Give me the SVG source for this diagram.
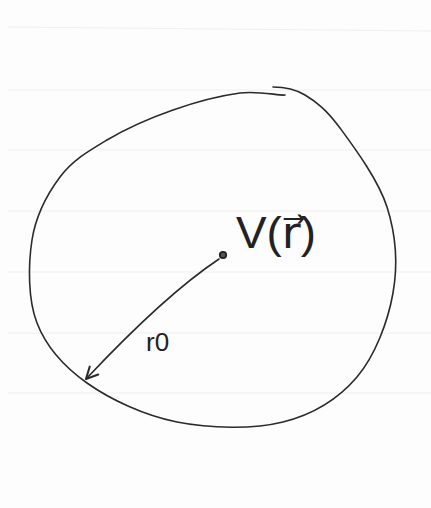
<svg xmlns="http://www.w3.org/2000/svg" width="431" height="508" viewBox="0 0 431 508">
  <style>
    .ink { fill: none; stroke: #2b2b2b; stroke-width: 1.6; stroke-linecap: round; stroke-linejoin: round; }
    .rule { stroke: #efefef; stroke-width: 1; }
    .lbl { font-family: "Liberation Sans", "DejaVu Sans", sans-serif; fill: #222; }
  </style>
  <defs>
    <marker id="arrow" viewBox="0 0 12 12" refX="11" refY="6" markerWidth="14" markerHeight="14" markerUnits="userSpaceOnUse" orient="auto">
      <path d="M1,1 L11,6 L1,11" fill="none" stroke="#2b2b2b" stroke-width="1.8" stroke-linecap="round" stroke-linejoin="round"/>
    </marker>
  </defs>
  <rect width="431" height="508" fill="#fdfdfd"/>
  <g id="paper-rules">
    <line class="rule" x1="8" y1="27" x2="431" y2="31"/>
    <line class="rule" x1="8" y1="90" x2="431" y2="90"/>
    <line class="rule" x1="8" y1="150" x2="431" y2="150"/>
    <line class="rule" x1="8" y1="211" x2="431" y2="211"/>
    <line class="rule" x1="8" y1="272" x2="431" y2="272"/>
    <line class="rule" x1="8" y1="333" x2="431" y2="333"/>
    <line class="rule" x1="8" y1="393" x2="431" y2="393"/>
  </g>
  <g id="region">
    <path class="ink" d="M285,95 C279.5,96 258.7,90.5 240,93 C221.3,95.5 195.2,102.2 173,110 C150.8,117.8 125.8,128.8 107,140 C88.2,151.2 72.5,160.3 60,177 C47.5,193.7 35.8,215.7 32,240 C28.2,264.3 27.8,299.2 37,323 C46.2,346.8 63.7,366.5 87,383 C110.3,399.5 144.3,415.5 177,422 C209.7,428.5 253,429.5 283,422 C313,414.5 338.7,398.5 357,377 C375.3,355.5 388,321.3 393,293 C398,264.7 395.8,234.5 387,207 C378.2,179.5 353.7,146.7 340,128 C326.3,109.3 316.2,101.8 305,95 C293.8,88.2 281,87 273,87"/>
  </g>
  <g id="center-point">
    <circle cx="223" cy="255" r="3.2" fill="#555" stroke="#222" stroke-width="1.8"/>
    <text class="lbl" x="236" y="248" font-size="44" textLength="80" lengthAdjust="spacingAndGlyphs">V(r⃗)</text>
  </g>
  <g id="connectors">
    <path class="ink" d="M219,259 Q165,295 86,379" marker-end="url(#arrow)"/>
    <text class="lbl" x="146" y="351" font-size="26">r0</text>
  </g>
</svg>
